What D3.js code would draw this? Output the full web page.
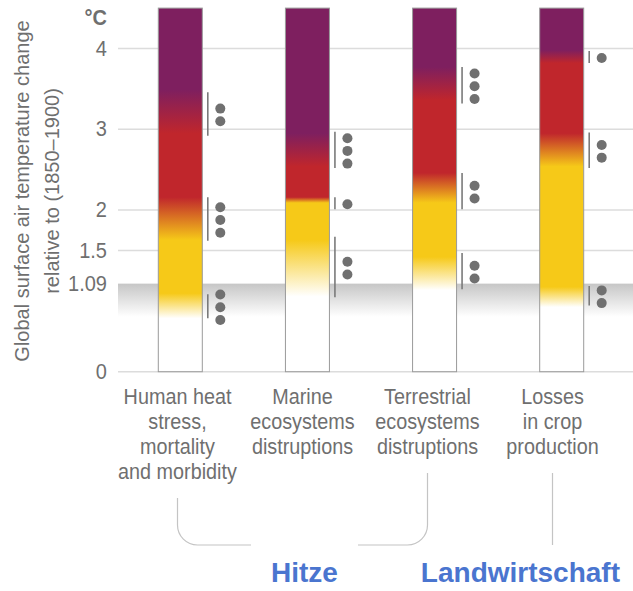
<!DOCTYPE html>
<html>
<head>
<meta charset="utf-8">
<script src="https://cdn.jsdelivr.net/npm/d3@7"></script>
<style>
body { margin: 0; background: #fff; }
text { font-family: "Liberation Sans", Arial, sans-serif; fill: #6f6f6f; }
.title { font-size: 20px; }
.group { font-size: 28px; font-weight: bold; fill: #4a75cf; }
</style>
</head>
<body>
<svg id="chart" width="633" height="591"></svg>
<script>
var categories = ["heat", "marine", "terrestrial", "crop"];
var labelLines = [
  ["Human heat", "stress,", "mortality", "and morbidity"],
  ["Marine", "ecosystems", "distruptions"],
  ["Terrestrial", "ecosystems", "distruptions"],
  ["Losses", "in crop", "production"]
];

// ember transitions, start and end in °C
var whiteToYellow = [[0.66, 0.97], [0.93, 1.63], [1.01, 1.42], [0.80, 1.05]];
var yellowToRed   = [[1.63, 2.16], [2.09, 2.16], [2.09, 2.46], [2.54, 2.95]];
var redToPurple   = [[2.95, 3.49], [2.54, 2.95], [3.36, 3.77], [3.82, 3.98]];

// confidence brackets: [low, high, number of dots]
var confidence = [
  [[0.66, 0.96, 3], [1.62, 2.16, 3], [2.92, 3.46, 2]],
  [[0.92, 1.67, 2], [2.01, 2.16, 1], [2.52, 2.97, 3]],
  [[1.02, 1.47, 2], [2.01, 2.46, 2], [3.32, 3.77, 3]],
  [[0.82, 1.06, 2], [2.52, 2.96, 2], [3.82, 3.97, 1]]
];

var tickValues = [0, 1.09, 1.5, 2, 3, 4];
var gridValues = [0, 1.5, 2, 3, 4];
var observed = [0.68, 1.09];

var groupNames = ["Hitze", "Landwirtschaft"];
var groupMembers = [[0, 2], [3]];

var colors = { white: "#ffffff", yellow: "#f6c918", red: "#c0262c", purple: "#7e1f5f" };

var svg = d3.select("#chart");
var defs = svg.append("defs");

var y = d3.scaleLinear().domain([0, 4.5]).range([371.7, 8.1]);
var xBar = d3.scalePoint().domain(categories).range([180.3, 561.7]);
var xLabel = d3.scalePoint().domain(categories).range([177.5, 552.5]);
var barW = 44;
var gridLeft = 118, gridRight = 633;
var stretch = 1.14; // the original type is taller than it is wide

// observed warming band
var obs = defs.append("linearGradient").attr("id", "obs")
  .attr("x1", 0).attr("y1", 0).attr("x2", 0).attr("y2", 1);
obs.append("stop").attr("offset", 0).attr("stop-color", "#c6c6c6");
obs.append("stop").attr("offset", 1).attr("stop-color", "#ffffff");

svg.append("rect")
  .attr("x", gridLeft).attr("width", gridRight - gridLeft)
  .attr("y", y(observed[1])).attr("height", y(observed[0]) - y(observed[1]))
  .attr("fill", "url(#obs)");

svg.selectAll(".grid").data(gridValues).enter().append("line")
  .attr("class", "grid")
  .attr("x1", gridLeft).attr("x2", gridRight)
  .attr("y1", function(d){ return y(d); }).attr("y2", function(d){ return y(d); })
  .attr("stroke", "#dcdcdc").attr("stroke-width", 1.5);

svg.selectAll(".tick").data(tickValues).enter().append("g")
  .attr("class", "tick")
  .attr("transform", function(d){ return "translate(107," + (y(d) + 7) + ") scale(1," + stretch + ")"; })
  .append("text")
  .attr("text-anchor", "end")
  .style("font-size", "20px")
  .text(function(d){ return d; });

svg.append("g")
  .attr("transform", "translate(107,25) scale(1," + stretch + ")")
  .append("text")
  .attr("text-anchor", "end")
  .style("font-size", "20px").style("font-weight", "bold")
  .text("°C");

// y axis title
svg.append("text").attr("class", "title")
  .attr("transform", "translate(29,191) rotate(-90)")
  .attr("text-anchor", "middle")
  .text("Global surface air temperature change");
svg.append("text").attr("class", "title")
  .attr("transform", "translate(59,191) rotate(-90)")
  .attr("text-anchor", "middle")
  .text("relative to (1850–1900)");

// embers
categories.forEach(function(c, i){
  var stops = [
    [0, colors.white],
    [whiteToYellow[i][0], colors.white],
    [whiteToYellow[i][1], colors.yellow],
    [yellowToRed[i][0], colors.yellow],
    [yellowToRed[i][1], colors.red],
    [redToPurple[i][0], colors.red],
    [redToPurple[i][1], colors.purple],
    [4.5, colors.purple]
  ];
  var g = defs.append("linearGradient").attr("id", "ember" + i)
    .attr("gradientUnits", "userSpaceOnUse")
    .attr("x1", 0).attr("x2", 0).attr("y1", y(0)).attr("y2", y(4.5));
  g.selectAll("stop").data(stops).enter().append("stop")
    .attr("offset", function(d){ return d[0] / 4.5; })
    .attr("stop-color", function(d){ return d[1]; });

  svg.append("rect")
    .attr("x", xBar(c) - barW / 2).attr("width", barW)
    .attr("y", y(4.5)).attr("height", y(0) - y(4.5))
    .attr("fill", "url(#ember" + i + ")")
    .attr("stroke", "#9a9a9a").attr("stroke-width", 1);

  var conf = svg.append("g");
  confidence[i].forEach(function(b){
    var lx = xBar(c) + barW / 2 + 5.5;
    conf.append("line")
      .attr("x1", lx).attr("x2", lx)
      .attr("y1", y(b[1])).attr("y2", y(b[0]))
      .attr("stroke", "#7a7a7a").attr("stroke-width", 1.6);
    var mid = (y(b[0]) + y(b[1])) / 2 + 1;
    conf.selectAll(null).data(d3.range(b[2])).enter().append("circle")
      .attr("cx", xBar(c) + barW / 2 + 18)
      .attr("cy", function(k){ return mid + (k - (b[2] - 1) / 2) * 12.7; })
      .attr("r", 5)
      .attr("fill", "#707070");
  });

  var t = svg.append("g")
    .attr("transform", "translate(" + xLabel(c) + ",404) scale(1," + stretch + ")")
    .append("text")
    .attr("text-anchor", "middle")
    .style("font-size", "19.8px");
  t.selectAll("tspan").data(labelLines[i]).enter().append("tspan")
    .attr("x", 0)
    .attr("y", function(d, k){ return k * 25 / stretch; })
    .text(function(d){ return d; });
});

// group brackets
var baseY = 545, rad = 20, gap = 107;
function labelBottom(i){ return 404 + (labelLines[i].length - 1) * 25 + 19; }

groupNames.forEach(function(name, gi){
  var m = groupMembers[gi];
  var label = svg.append("text").attr("class", "group")
    .attr("y", 582).attr("text-anchor", "middle").text(name);
  if (m.length > 1) {
    var xl = xLabel(categories[m[0]]), xr = xLabel(categories[m[1]]);
    var mx = (xl + xr) / 2 + 2;
    svg.append("path")
      .attr("d", "M" + xl + "," + labelBottom(m[0]) + "V" + (baseY - rad) +
        "A" + rad + "," + rad + " 0 0 0 " + (xl + rad) + "," + baseY + "H" + (mx - gap / 2) +
        "M" + (mx + gap / 2) + "," + baseY + "H" + (xr - rad) +
        "A" + rad + "," + rad + " 0 0 0 " + xr + "," + (baseY - rad) + "V" + labelBottom(m[1]))
      .attr("fill", "none").attr("stroke", "#c4c4c4").attr("stroke-width", 1.2);
    label.attr("x", mx);
  } else {
    var xs = xLabel(categories[m[0]]);
    svg.append("line")
      .attr("x1", xs).attr("x2", xs)
      .attr("y1", labelBottom(m[0])).attr("y2", baseY)
      .attr("stroke", "#c4c4c4").attr("stroke-width", 1.2);
    var w = label.node().getComputedTextLength();
    label.attr("x", Math.min(xs, 620 - w / 2));
  }
});
</script>
</body>
</html>
